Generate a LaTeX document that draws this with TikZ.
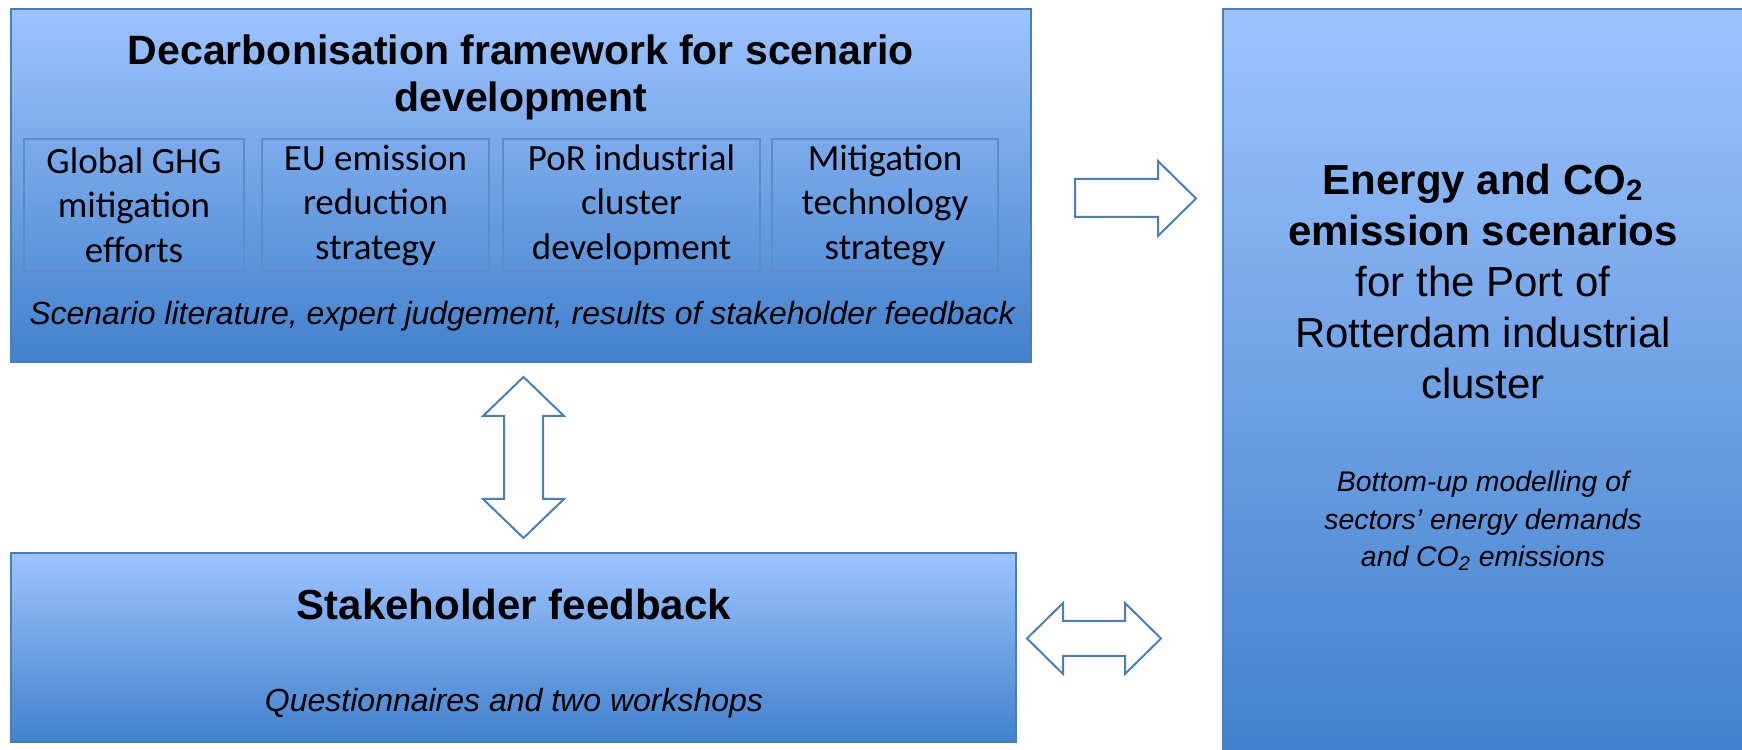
\documentclass[tikz,border=0pt]{standalone}
\usepackage{fontspec}
\setmainfont{Liberation Sans}
\newfontfamily\calibri{Carlito}
\usetikzlibrary{positioning}

\definecolor{boxtop}{RGB}{157,195,255}
\definecolor{boxbottom}{RGB}{66,129,204}
\definecolor{boxline}{RGB}{74,126,187}
\definecolor{itemline}{RGB}{92,140,204}

\begin{document}
\begin{tikzpicture}[x=0.5pt, y=0.5pt,
    panel/.style={draw=boxline, line width=1.2pt, top color=boxtop, bottom color=boxbottom, inner sep=0pt},
    item/.style={draw=itemline, line width=0.8pt, minimum height=66pt, inner sep=0pt, align=center,
      font=\calibri\fontsize{18.5}{22.25}\selectfont},
    heading/.style={align=center, font=\bfseries\fontsize{20.5}{23.5}\selectfont},
    note/.style={align=center, font=\itshape\fontsize{16}{19}\selectfont},
    fatarrow/.style={draw=boxline, line width=1pt, fill=white, line join=miter}]
  \useasboundingbox (0,0) rectangle (1742,750);
  \clip (0,0) rectangle (1742,750);

  % the three panels
  \node[panel, minimum width=510pt, minimum height=176.5pt] (frame) at (521,564.5) {};
  \node[panel, minimum width=502.5pt, minimum height=94.5pt] (stake) at (513.5,102.5) {};
  \node[panel, minimum width=261pt, minimum height=371.5pt] (scen) at (1484,369.5) {};

  % framework panel
  \node[heading] (frametitle) at (521,672.5) {Decarbonisation framework for scenario\\development};
  \node[item, minimum width=110pt] (ghg) at (134,545) {Global GHG\\mitigation\\efforts};
  \node[item, minimum width=113.5pt] (eu) at (375.5,545) {EU emission\\reduction\\strategy};
  \node[item, minimum width=128.5pt] (por) at (631.5,545) {PoR industrial\\cluster\\development};
  \node[item, minimum width=113pt] (tech) at (885,545) {Mitigation\\technology\\strategy};
  \node[note] (sources) at (522,433.5) {Scenario literature, expert judgement, results of stakeholder feedback};

  % stakeholder panel
  \node[heading, font=\bfseries\fontsize{21}{25}\selectfont] (staketitle) at (514,146) {Stakeholder feedback};
  \node[note] (stakenote) at (514,47) {Questionnaires and two workshops};

  % scenario panel
  \node[align=center, font=\fontsize{21}{25.5}\selectfont] (scentitle) at (1483,469)
    {\textbf{Energy and CO\textsubscript{2}}\\\textbf{emission scenarios}\\for the Port of\\Rotterdam industrial\\cluster};
  \node[note, font=\itshape\fontsize{14.2}{18.75}\selectfont] (scennote) at (1483,229)
    {Bottom-up modelling of\\sectors’ energy demands\\and CO\textsubscript{2} emissions};

  % block arrows between the panels
  \draw[fatarrow] (1075,571) -- (1158,571) -- (1158,589) -- (1196,551.5) -- (1158,514)
    -- (1158,533) -- (1075,533) -- cycle;
  \draw[fatarrow] (523.5,373) -- (564,334) -- (543,334) -- (543,251) -- (564,251) -- (523.5,212)
    -- (483,251) -- (504,251) -- (504,334) -- (483,334) -- cycle;
  \draw[fatarrow] (1027,111.5) -- (1063,147) -- (1063,129) -- (1125,129) -- (1125,147) -- (1161,111.5)
    -- (1125,76) -- (1125,94) -- (1063,94) -- (1063,76) -- cycle;
\end{tikzpicture}
\end{document}
